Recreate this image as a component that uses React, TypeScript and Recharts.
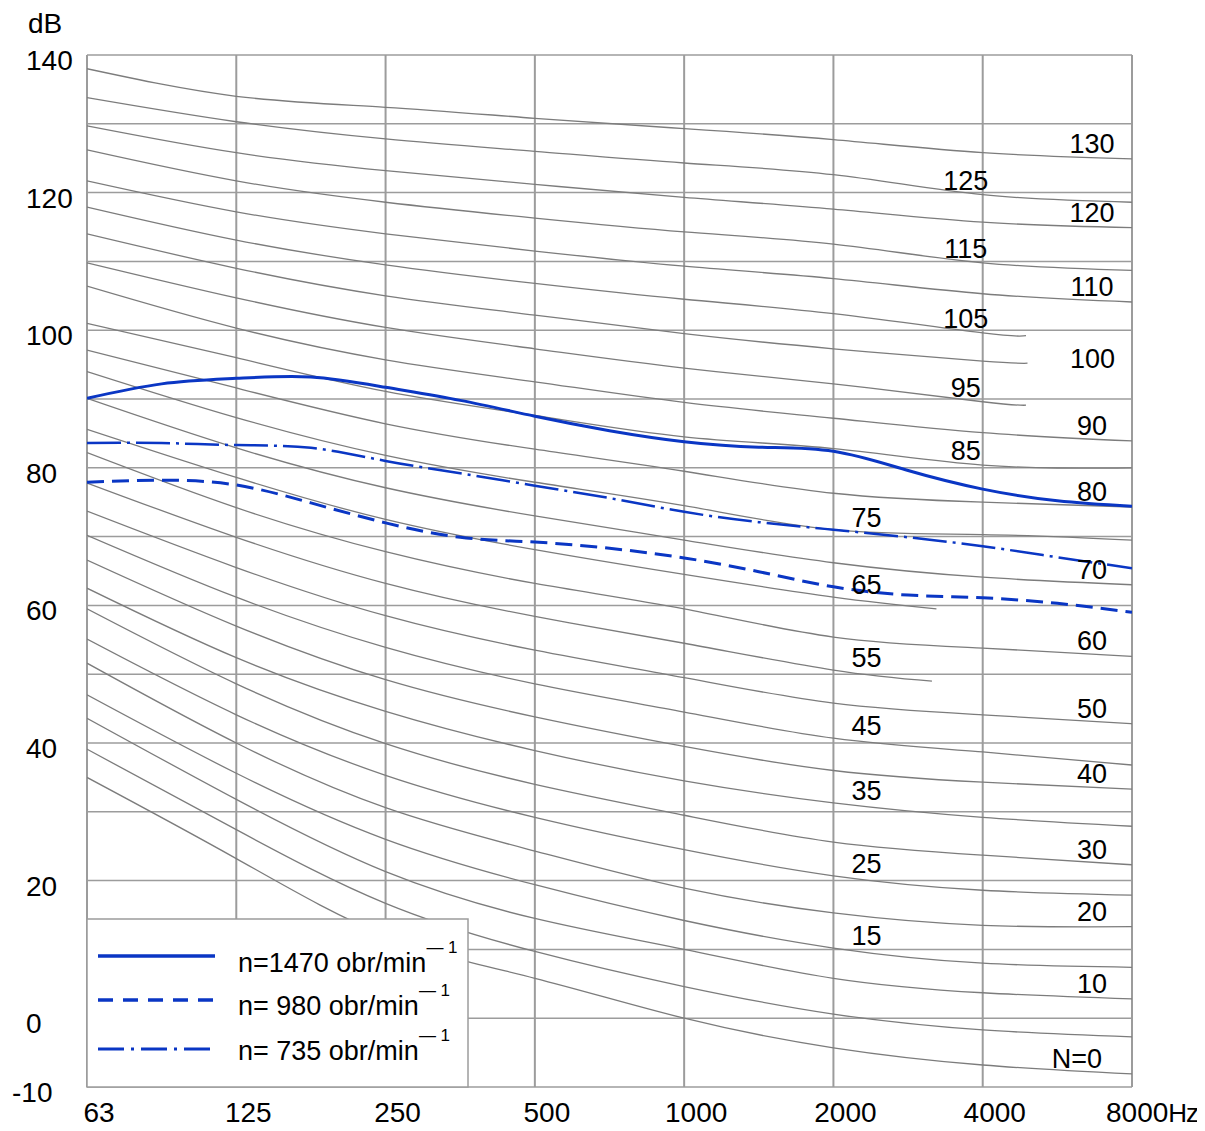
import React from 'react';
import { LineChart, Line, XAxis, YAxis, CartesianGrid } from 'recharts';

// octave bands, x = band index
const bandLabels = ['63', '125', '250', '500', '1000', '2000', '4000', '8000'];

// NR curves N = 0..130, one array per band (dB)
const nrLevels = [0, 5, 10, 15, 20, 25, 30, 35, 40, 45, 50, 55, 60, 65, 70, 75, 80, 85, 90, 95, 100, 105, 110, 115, 120, 125, 130];
const db63 = [35.0, 39.1, 43.6, 47.0, 51.6, 55.1, 59.5, 62.5, 66.6, 70.2, 73.7, 77.8, 82.2, 85.6, 90.1, 94.0, 97.1, 101.0, 106.4, 109.8, 114.0, 117.9, 121.7, 126.2, 129.7, 133.8, 138.0];
const db125 = [23.2, 27.4, 31.8, 35.6, 40.0, 44.1, 48.6, 52.4, 57.0, 61.2, 65.5, 69.9, 74.2, 78.6, 82.9, 87.3, 91.6, 96.0, 100.3, 104.7, 109.0, 113.1, 117.2, 121.7, 125.8, 130.3, 134.0];
const db250 = [12.0, 16.7, 21.3, 26.0, 30.6, 35.3, 39.9, 44.6, 49.2, 53.9, 58.5, 63.2, 67.8, 72.5, 77.1, 81.8, 86.4, 91.1, 95.7, 100.4, 105.0, 109.5, 114.0, 118.6, 123.2, 127.8, 132.4];
const db500 = [5.8, 9.7, 14.5, 19.4, 24.3, 29.2, 34.0, 38.9, 43.8, 48.6, 53.5, 58.4, 63.2, 68.1, 73.0, 77.9, 82.7, 87.6, 92.5, 97.3, 102.2, 106.8, 111.5, 116.3, 121.2, 126.0, 130.8];
const db1000 = [0.0, 4.6, 10.0, 14.2, 18.9, 24.5, 29.5, 34.5, 39.5, 44.5, 49.5, 54.5, 59.5, 64.5, 69.5, 74.5, 79.5, 84.5, 89.5, 94.5, 99.5, 104.5, 109.3, 114.3, 119.3, 124.3, 129.3];
const db2000 = [-4.3, 0.6, 5.8, 10.2, 15.3, 20.7, 25.6, 31.3, 36.0, 40.7, 45.8, 50.6, 55.4, 61.2, 66.2, 71.0, 76.3, 82.8, 87.2, 92.2, 97.3, 102.4, 107.5, 112.5, 117.6, 122.6, 127.7];
const db4000 = [-6.8, -1.7, 3.7, 8.0, 13.5, 18.6, 23.7, 29.2, 34.3, 38.7, 44.1, null, 53.8, null, 64.1, 70.3, 75.0, 80.4, 85.1, 89.6, 95.5, 99.6, 105.3, 109.8, 115.7, 119.7, 125.8];
const db8000 = [-8.1, -2.7, 2.8, 7.4, 13.3, 17.9, 22.3, 27.9, 33.3, 36.8, 42.8, null, 52.6, null, 63.0, 69.5, 74.3, 80.0, 83.9, null, null, null, 104.1, 108.7, 114.9, 118.6, 124.9];

// curves that stop short of the right edge
const cutLevels = [55, 65, 95, 100, 105];
const cutX = [5.66, 5.69, 6.29, 6.3, 6.29];
const cutDb = [49.0, 59.5, 89.1, 95.2, 99.2];

// measured spectra, half-octave steps
const halfOctaves = [0, 0.5, 1, 1.5, 2, 2.5, 3, 3.5, 4, 4.5, 5, 5.5, 6, 6.5, 7];
const n1470 = [90.1, 92.2, 93.0, 93.2, 91.7, 89.8, 87.5, 85.4, 83.8, 83.0, 82.4, 79.6, 76.9, 75.2, 74.4];
const n980 = [77.9, 78.2, 77.5, 74.9, 72.0, 69.9, 69.2, 68.3, 66.9, 64.9, 62.7, 61.5, 61.1, 60.3, 59.0];
const n735 = [83.6, 83.6, 83.3, 82.9, 81.0, 79.2, 77.4, 75.6, 73.6, 72.1, 71.0, 69.9, 68.6, 67.0, 65.4];
const seriesNames = ['n=1470 obr/min', 'n= 980 obr/min', 'n= 735 obr/min'];

const yTicks = [-10, 0, 10, 20, 30, 40, 50, 60, 70, 80, 90, 100, 110, 120, 130, 140];
const yLabelTicks = [140, 120, 100, 80, 60, 40, 20, 0, -10];

const FONT = '"Liberation Sans", Arial, sans-serif';
const BLUE = '#0a36c4';
const GRAY = '#7c7c7c';
const GRID = '#9c9c9c';
const INK = '#000';

const bands = [db63, db125, db250, db500, db1000, db2000, db4000, db8000];

const nrCurves = nrLevels.map((level, i) => {
  const pts: { x: number; db: number }[] = [];
  bands.forEach((arr, b) => {
    const v = arr[i];
    if (v !== null && v !== undefined) pts.push({ x: b, db: v });
  });
  const c = cutLevels.indexOf(level);
  if (c >= 0) pts.push({ x: cutX[c], db: cutDb[c] });
  return { level, pts };
});

const blueStyles = [
  { width: 3, dash: undefined, legendDash: undefined },
  { width: 3, dash: '17 8', legendDash: '15 10' },
  { width: 2.5, dash: '34 6 3 6', legendDash: '26 7 3 7' },
];
const blueSeries = [n1470, n980, n735].map((vals, i) => ({
  name: seriesNames[i],
  pts: halfOctaves.map((x, k) => ({ x, db: vals[k] })),
  ...blueStyles[i],
}));

// where each curve carries its number
const labelSpot = (level: number, lastX: number) => {
  if (level === 0) return { x: 7, text: 'N=0', dx: -55, dy: -6 };
  if (level === 5) return null;
  if (level === 100) return { x: lastX, text: '100', dx: 65, dy: 5 };
  if (level % 10 === 0) return { x: 7, text: String(level), dx: -40, dy: -6 };
  if (level >= 85) return { x: 6, text: String(level), dx: -17, dy: -5 };
  return { x: 5, text: String(level), dx: 33, dy: -3 };
};

const XTick = (props: any) => {
  const { x, payload } = props;
  const i = payload.value as number;
  const last = i === bandLabels.length - 1;
  return (
    <text
      x={last ? x - 26 : x + 12}
      y={1114}
      textAnchor={last ? 'start' : 'middle'}
      fontFamily={FONT}
      fontSize={28}
      fill={INK}
    >
      {bandLabels[i]}
      {last ? <tspan fontSize={26} letterSpacing={-1}>Hz</tspan> : null}
    </text>
  );
};

const YTick = (props: any) => {
  const { y, payload } = props;
  const v = payload.value as number;
  if (!yLabelTicks.includes(v)) return <g />;
  return (
    <text x={v < 0 ? 4 : 18} y={y + 15} textAnchor="start" fontFamily={FONT} fontSize={28} fill={INK}>
      {v}
    </text>
  );
};

const App: React.FC = () => {
  return (
    <div style={{ position: 'relative', width: 1197, height: 1123, background: '#fff' }}>
      <LineChart
        width={1197}
        height={1123}
        margin={{ top: 47, right: 73, bottom: 8, left: 9 }}
        style={{ overflow: 'visible' }}
      >
        <CartesianGrid vertical={false} stroke={GRID} strokeWidth={1.5} />
        <CartesianGrid horizontal={false} stroke={GRID} strokeWidth={2} />
        <XAxis
          type="number"
          dataKey="x"
          domain={[0, 7]}
          ticks={[0, 1, 2, 3, 4, 5, 6, 7]}
          interval={0}
          allowDataOverflow
          axisLine={false}
          tickLine={false}
          height={36}
          tick={<XTick />}
        />
        <YAxis
          type="number"
          domain={[-10, 140]}
          ticks={yTicks}
          interval={0}
          allowDataOverflow
          axisLine={false}
          tickLine={false}
          width={70}
          tick={<YTick />}
        />
        {nrCurves.map((c) => {
          const spot = labelSpot(c.level, c.pts[c.pts.length - 1].x);
          return (
            <Line
              key={`nr-${c.level}`}
              data={c.pts}
              dataKey="db"
              type="natural"
              stroke={GRAY}
              strokeWidth={1.3}
              isAnimationActive={false}
              dot={(p: any) => {
                if (!spot || p.payload.x !== spot.x) return <g key={`d-${c.level}-${p.index}`} />;
                return (
                  <text
                    key={`d-${c.level}-${p.index}`}
                    x={p.cx + spot.dx}
                    y={p.cy + spot.dy}
                    textAnchor="middle"
                    fontFamily={FONT}
                    fontSize={27}
                    fill={INK}
                  >
                    {spot.text}
                  </text>
                );
              }}
              activeDot={false}
            />
          );
        })}
        {blueSeries.map((s) => (
          <Line
            key={s.name}
            data={s.pts}
            dataKey="db"
            name={s.name}
            type="natural"
            stroke={BLUE}
            strokeWidth={s.width}
            strokeDasharray={s.dash}
            dot={false}
            activeDot={false}
            isAnimationActive={false}
          />
        ))}
      </LineChart>
      <svg
        width={1197}
        height={1123}
        style={{ position: 'absolute', left: 0, top: 0, pointerEvents: 'none' }}
      >
        <text x={20} y={25} fontFamily={FONT} fontSize={28} fill={INK}>
          dB
        </text>
        <rect x={79} y={911} width={381} height={168} fill="#fff" stroke={GRID} strokeWidth={1.5} />
        {blueSeries.map((s, i) => {
          const ly = [948, 992, 1041][i];
          const ty = [964, 1007, 1052][i];
          return (
            <g key={`lg-${i}`}>
              <line x1={90} x2={207} y1={ly} y2={ly} stroke={BLUE} strokeWidth={s.width + 0.5} strokeDasharray={s.legendDash} />
              <text x={230} y={ty} fontFamily={FONT} fontSize={27} fill={INK}>
                {s.name}
                <tspan fontSize={17} dy={-19}>
                  {'\u2014 1'}
                </tspan>
              </text>
            </g>
          );
        })}
      </svg>
    </div>
  );
};

export default App;
